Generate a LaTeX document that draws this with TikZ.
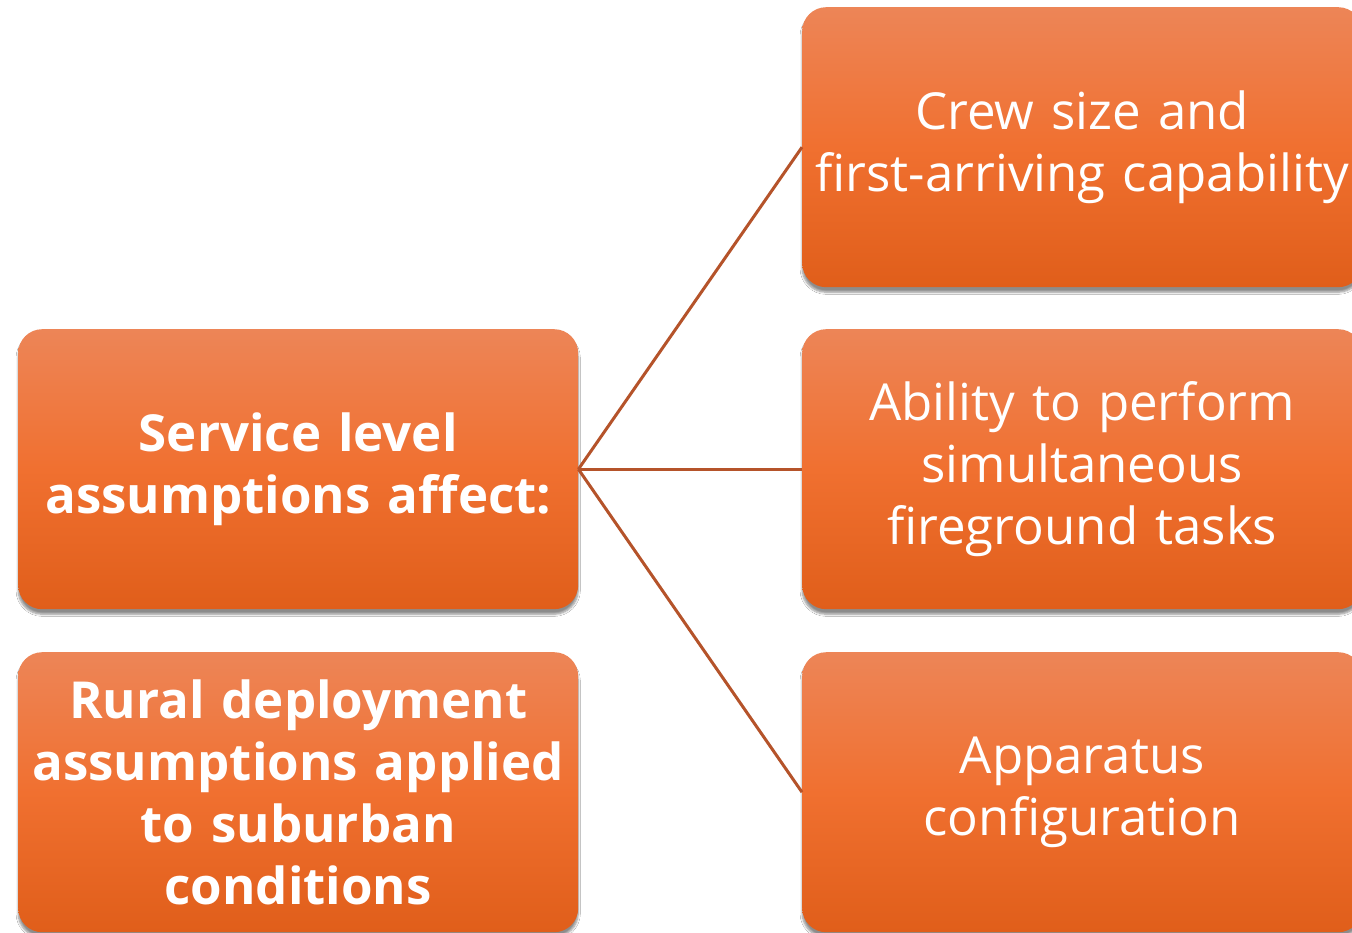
\documentclass[tikz,border=0pt]{standalone}
\usepackage{fontspec}
\setmainfont{Open Sans}
\usetikzlibrary{shadows.blur}
\definecolor{otop}{HTML}{ED8557}
\definecolor{omid}{HTML}{F07030}
\definecolor{obot}{HTML}{E05E1A}
\definecolor{link}{HTML}{B5532A}
\tikzset{
  obox/.style={rounded corners=24pt, top color=otop, bottom color=obot, middle color=omid,
    draw=none, minimum width=560pt, minimum height=280pt, text width=556pt, align=center,
    text=white, inner sep=0pt, anchor=north west,
    blur shadow={shadow xshift=0pt, shadow yshift=-5pt, shadow blur steps=6, shadow opacity=45}},
  reg/.style={font=\fontsize{51}{62}\selectfont},
  bld/.style={font=\fontsize{51}{62}\selectfont\bfseries},
  conn/.style={draw=link, line width=3pt}
}
\begin{document}
\begin{tikzpicture}[x=1pt,y=-1pt]
\useasboundingbox (0,0) rectangle (1352,933);
\fill[white] (0,0) rectangle (1352,933);
\node[obox,bld] (svc) at (18,329) {Service level\\assumptions affect:};
\node[obox,bld] (rur) at (18,652) {Rural deployment\\assumptions applied\\to suburban\\conditions};
\node[obox,reg] (crew) at (802,7) {Crew size and\\first-arriving capability};
\node[obox,reg] (abil) at (802,329) {Ability to perform\\simultaneous\\fireground tasks};
\node[obox,reg] (app) at (802,652) {Apparatus\\configuration};
\draw[conn] (svc.east) -- (crew.west);
\draw[conn] (svc.east) -- (abil.west);
\draw[conn] (svc.east) -- (app.west);
\end{tikzpicture}
\end{document}
